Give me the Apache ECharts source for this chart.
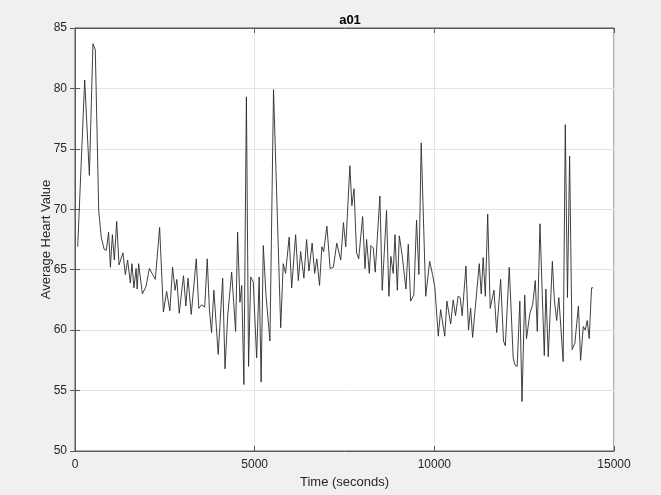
<!DOCTYPE html>
<html>
<head>
<meta charset="utf-8">
<script src="https://cdn.jsdelivr.net/npm/echarts@6/dist/echarts.min.js"></script>
<style>
html,body{margin:0;padding:0;background:#f0f0f0;}
#chart{width:661px;height:495px;}
</style>
</head>
<body>
<div id="chart"></div>
<script>
const title = "a01";
const xAxisName = "Time (seconds)";
const yAxisName = "Average Heart Value";
const xTicks = [0, 5000, 10000, 15000];
const yTicks = [50, 55, 60, 65, 70, 75, 80, 85];

const times = [
  75, 270, 400, 500, 565, 660, 730, 810, 870, 935,
  985, 1040, 1095, 1160, 1225, 1335, 1400, 1465, 1540, 1585,
  1640, 1700, 1730, 1770, 1875, 1975, 2070, 2235, 2355, 2460,
  2550, 2640, 2715, 2785, 2835, 2900, 3020, 3085, 3145, 3235,
  3375, 3445, 3520, 3610, 3680, 3740, 3800, 3865, 3985, 4110,
  4175, 4250, 4285, 4360, 4405, 4470, 4525, 4590, 4640, 4700,
  4770, 4830, 4890, 4960, 5055, 5125, 5180, 5240, 5315, 5425,
  5525, 5725, 5795, 5860, 5960, 6030, 6140, 6215, 6280, 6370,
  6445, 6510, 6600, 6670, 6730, 6805, 6870, 6920, 7010, 7100,
  7190, 7285, 7395, 7470, 7535, 7650, 7705, 7765, 7835, 7895,
  8005, 8070, 8115, 8190, 8235, 8300, 8355, 8485, 8550, 8670,
  8735, 8790, 8855, 8905, 8970, 9025, 9105, 9210, 9275, 9340,
  9430, 9505, 9570, 9635, 9760, 9815, 9870, 9950, 10015, 10110,
  10175, 10290, 10350, 10455, 10525, 10590, 10660, 10720, 10775, 10880,
  10950, 11010, 11065, 11120, 11250, 11305, 11360, 11420, 11485, 11555,
  11660, 11735, 11845, 11925, 11975, 12085, 12195, 12245, 12305, 12380,
  12440, 12515, 12565, 12660, 12735, 12810, 12865, 12940, 13000, 13060,
  13105, 13170, 13220, 13285, 13340, 13405, 13465, 13520, 13585, 13645,
  13705, 13765, 13835, 13910, 14010, 14070, 14145, 14200, 14255, 14310,
  14375, 14420
];
const heartValues = [
  66.9, 80.7, 72.8, 83.7, 83.2, 69.9, 67.7, 66.7, 66.6, 68.1,
  65.2, 67.9, 65.8, 69.0, 65.4, 66.4, 64.6, 65.8, 63.9, 65.5,
  63.5, 65.1, 63.4, 65.5, 63.0, 63.6, 65.1, 64.2, 68.5, 61.5,
  63.2, 61.6, 65.2, 63.3, 64.2, 61.4, 64.5, 62.0, 64.3, 61.3,
  65.9, 61.8, 62.1, 61.9, 65.9, 61.7, 59.8, 63.3, 58.0, 64.3,
  56.8, 61.2, 61.1, 64.8, 64.8, 59.9, 68.1, 62.3, 63.7, 55.5,
  79.3, 57.0, 64.4, 64.0, 57.7, 64.4, 55.7, 67.0, 62.9, 59.1,
  79.9, 60.2, 65.5, 64.7, 67.7, 63.5, 67.9, 64.1, 66.5, 64.3,
  67.5, 64.9, 67.2, 64.7, 65.9, 63.7, 66.9, 66.5, 68.6, 65.1,
  65.2, 67.2, 65.8, 68.9, 66.9, 73.6, 70.3, 71.7, 66.4, 65.9,
  69.4, 65.1, 67.5, 64.7, 67.0, 66.8, 64.8, 71.1, 63.3, 69.9,
  62.8, 66.1, 64.7, 67.9, 63.3, 67.8, 66.2, 63.4, 67.1, 62.4,
  62.9, 69.1, 64.6, 75.5, 62.8, 62.8, 65.7, 64.6, 63.5, 59.5,
  61.7, 59.5, 62.4, 60.5, 62.5, 61.2, 62.8, 62.7, 61.2, 65.3,
  60.0, 61.8, 59.4, 59.3, 65.5, 63.0, 66.0, 62.8, 69.6, 61.8,
  63.3, 59.8, 64.2, 59.1, 58.7, 65.2, 57.7, 57.1, 57.0, 62.4,
  54.1, 62.9, 59.3, 61.4, 62.1, 64.1, 59.9, 68.8, 63.3, 57.9,
  63.4, 57.8, 57.8, 65.7, 62.5, 60.8, 62.7, 62.6, 57.4, 77.0,
  62.7, 74.4, 58.4, 58.9, 62.0, 57.5, 60.3, 60.0, 60.8, 59.3,
  63.5, 63.5
];

const seriesData = times.map((t, i) => [t, heartValues[i]]);
const font = "'Liberation Sans', Arial, Helvetica, sans-serif";
const axisColor = '#5a5a5a';
const textColor = '#262626';

const chart = echarts.init(document.getElementById('chart'), null, {renderer: 'canvas'});
chart.setOption({
  backgroundColor: '#f0f0f0',
  animation: false,
  title: {
    text: title, left: 345, top: 9, textAlign: 'center',
    textStyle: {fontFamily: font, fontSize: 13, fontWeight: 'bold', color: '#000'}
  },
  grid: {
    left: 75, right: 47, top: 28, bottom: 44,
    show: true, backgroundColor: '#ffffff', borderColor: axisColor, borderWidth: 1
  },
  xAxis: [{
    type: 'value', min: xTicks[0], max: xTicks[xTicks.length - 1], interval: 5000,
    name: xAxisName, nameLocation: 'middle', nameGap: 25,
    nameTextStyle: {fontFamily: font, fontSize: 13, color: textColor},
    axisLine: {show: true, lineStyle: {color: axisColor}},
    axisTick: {show: true, inside: true, length: 5, lineStyle: {color: axisColor}},
    axisLabel: {fontFamily: font, fontSize: 12, color: textColor, margin: 8,
      formatter: v => String(v)},
    splitLine: {show: true, lineStyle: {color: '#e3e3e3', width: 1}}
  }, {
    type: 'value', position: 'top', min: xTicks[0], max: xTicks[xTicks.length - 1], interval: 5000,
    axisLine: {show: true, lineStyle: {color: axisColor}},
    axisTick: {show: true, inside: true, length: 5, lineStyle: {color: axisColor}},
    axisLabel: {show: false}, splitLine: {show: false}
  }],
  yAxis: [{
    type: 'value', min: yTicks[0], max: yTicks[yTicks.length - 1], interval: 5,
    name: yAxisName, nameLocation: 'middle', nameGap: 22, nameMoveOverlap: false,
    nameTextStyle: {fontFamily: font, fontSize: 13, color: textColor},
    axisLine: {show: true, lineStyle: {color: axisColor}},
    axisTick: {show: true, inside: true, length: 5, lineStyle: {color: axisColor}},
    axisLabel: {fontFamily: font, fontSize: 12, color: textColor, margin: 8},
    splitLine: {show: true, lineStyle: {color: '#e3e3e3', width: 1}}
  }, {
    type: 'value', position: 'right', min: yTicks[0], max: yTicks[yTicks.length - 1], interval: 5,
    axisLine: {show: true, lineStyle: {color: axisColor}},
    axisTick: {show: true, inside: true, length: 5, lineStyle: {color: axisColor}},
    axisLabel: {show: false}, splitLine: {show: false}
  }],
  series: [{
    type: 'line', data: seriesData, showSymbol: false, symbol: 'none',
    lineStyle: {color: '#2b2b2b', width: 0.9}, smooth: false
  }]
});
</script>
</body>
</html>
